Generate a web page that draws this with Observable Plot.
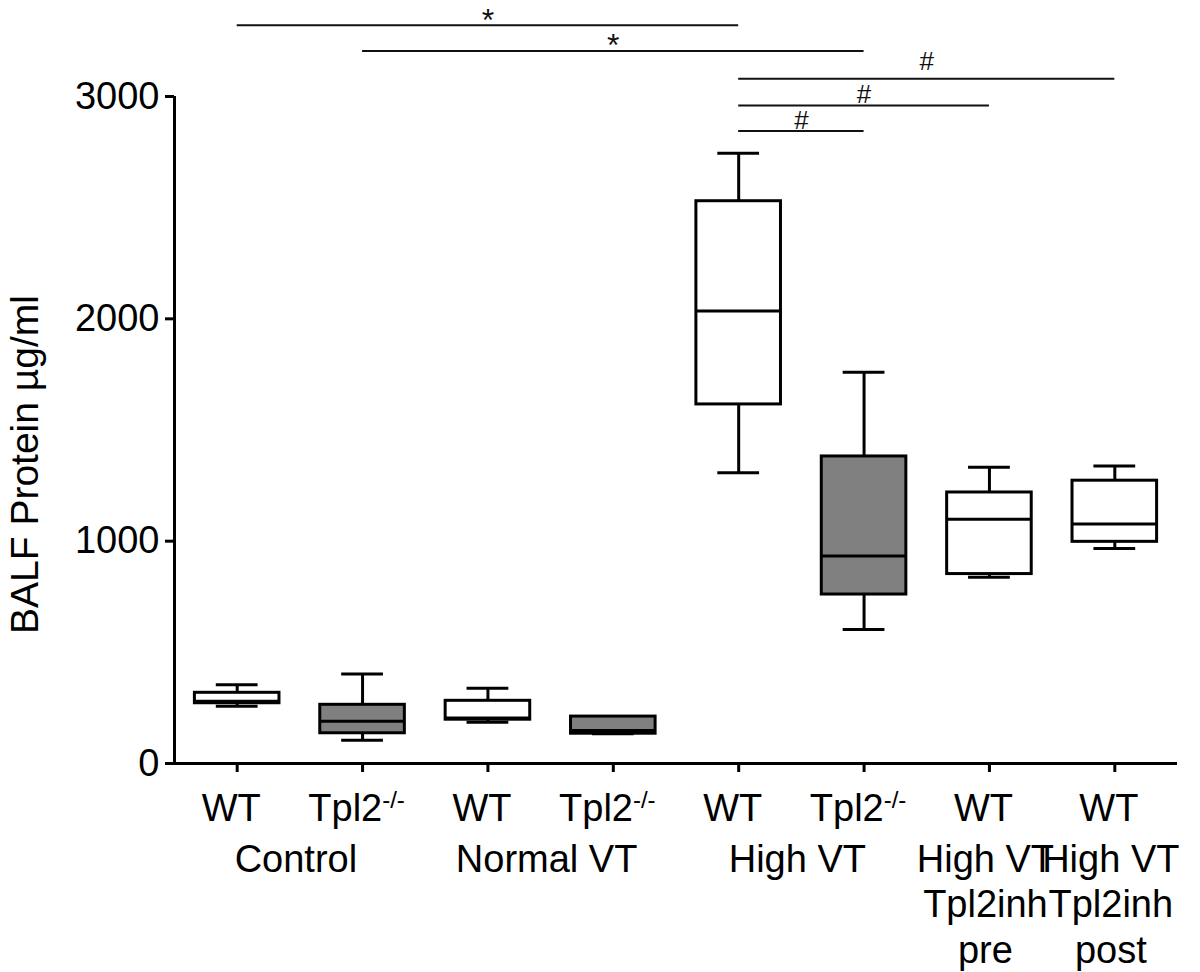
<!DOCTYPE html>
<html><head><meta charset="utf-8">
<script src="https://cdn.jsdelivr.net/npm/d3@7"></script>
<script src="https://cdn.jsdelivr.net/npm/@observablehq/plot@0.6"></script>
<style>body{margin:0;background:#fff}</style>
</head><body><div id="chart"></div>
<script>
// ---- data ----
const genotypes = ["WT", "Tpl2-/-", "WT", "Tpl2-/-", "WT", "Tpl2-/-", "WT", "WT"];
const knockout  = [false, true, false, true, false, true, false, false];
const groupLabels  = ["Control", "Normal VT", "High VT", "High VT\nTpl2inh\npre", "High VT\nTpl2inh\npost"];
const groupMembers = [[0, 1], [2, 3], [4, 5], [6], [7]];
const mins    = [258, 105, 186, 134, 1308,  603,  838,  967];
const q1s     = [271, 136, 197, 134, 1615,  760,  852,  997];
const medians = [280, 190, 205, 148, 2035,  933, 1099, 1077];
const q3s     = [318, 264, 282, 211, 2529, 1381, 1219, 1272];
const maxs    = [354, 402, 339, 211, 2745, 1760, 1333, 1338];
const yTicks  = [0, 1000, 2000, 3000];
const yTitle  = "BALF Protein µg/ml";
const sigFrom   = [0, 1, 4, 4, 4];
const sigTo     = [4, 5, 7, 6, 5];
const sigLevel  = [3320, 3205, 3080, 2960, 2845];
const sigLabelLevel = [3296, 3180, 3121, 2973, 2856];
const sigSymbol = ["*", "*", "#", "#", "#"];

// ---- tables built from the arrays ----
const boxes = genotypes.map((g, i) => ({
  i, g, ko: knockout[i], min: mins[i], q1: q1s[i], med: medians[i], q3: q3s[i], max: maxs[i]
}));
const groups = groupLabels.map((label, k) => ({label, x: d3.mean(groupMembers[k])}));
const sigs = sigFrom.map((f, k) => ({from: f, to: sigTo[k], level: sigLevel[k], ly: sigLabelLevel[k], sym: sigSymbol[k]}));
const xDomain = [-0.5, genotypes.length - 0.5];

const lw = 3;
const boxInset = 20.4;
const capInset = 41.8;

const plot = Plot.plot({
  width: 1200,
  height: 972,
  marginLeft: 174,
  marginRight: 23,
  marginTop: 96,
  marginBottom: 209,
  x: {domain: xDomain, axis: null},
  y: {domain: [0, 3000], axis: null},
  style: {fontFamily: "'Liberation Sans', Arial, Helvetica, sans-serif", color: "black", background: "white", overflow: "visible"},
  marks: [
    // axes
    Plot.axisY({ticks: yTicks, tickFormat: "d", tickSize: 9, tickPadding: 6, fontSize: 38, strokeWidth: lw, label: null}),
    Plot.axisX({ticks: genotypes.map((_, i) => i), tickFormat: () => "", tickSize: 9, strokeWidth: lw, label: null}),
    Plot.ruleY([0], {strokeWidth: lw, insetLeft: -8, stroke: "black"}),
    Plot.ruleX([xDomain[0]], {y1: 0, y2: 3000, strokeWidth: lw, stroke: "black"}),
    // whiskers
    Plot.ruleX(boxes, {x: "i", y1: "q3", y2: "max", strokeWidth: lw, stroke: "black"}),
    Plot.ruleX(boxes, {x: "i", y1: "min", y2: "q1", strokeWidth: lw, stroke: "black"}),
    Plot.ruleY(boxes, {y: "max", x1: d => d.i - 0.5, x2: d => d.i + 0.5, insetLeft: capInset, insetRight: capInset, strokeWidth: lw, stroke: "black"}),
    Plot.ruleY(boxes, {y: "min", x1: d => d.i - 0.5, x2: d => d.i + 0.5, insetLeft: capInset, insetRight: capInset, strokeWidth: lw, stroke: "black"}),
    // boxes
    Plot.rect(boxes, {x1: d => d.i - 0.5, x2: d => d.i + 0.5, y1: "q1", y2: "q3", insetLeft: boxInset, insetRight: boxInset,
      fill: d => d.ko ? "#808080" : "#ffffff", stroke: "black", strokeWidth: lw}),
    Plot.ruleY(boxes, {y: "med", x1: d => d.i - 0.5, x2: d => d.i + 0.5, insetLeft: boxInset, insetRight: boxInset, strokeWidth: lw, stroke: "black"}),
    // significance brackets
    Plot.ruleY(sigs, {y: "level", x1: "from", x2: "to", strokeWidth: 2, stroke: "#111"}),
    Plot.text(sigs.filter(d => d.sym === "*"), {x: d => (d.from + d.to) / 2, y: "ly", text: "sym", lineAnchor: "bottom", fontSize: 32, fill: "#111"}),
    Plot.text(sigs.filter(d => d.sym === "#"), {x: d => (d.from + d.to) / 2, y: "ly", text: "sym", lineAnchor: "bottom", fontSize: 26, fill: "#111"}),
    // category labels
    Plot.text(boxes, {x: "i", text: "g", frameAnchor: "bottom", lineAnchor: "top", dy: 31, dx: -6, fontSize: 38}),
    Plot.text(groups, {x: "x", text: "label", frameAnchor: "bottom", lineAnchor: "top", dy: 76, dx: -4, fontSize: 38, lineHeight: 1.2}),
    // y title
    Plot.text([yTitle], {frameAnchor: "left", rotate: -90, dx: -149, dy: 34.5, fontSize: 39, textAnchor: "middle", lineAnchor: "middle"})
  ]
});

// superscript "-/-"
const ns = "http://www.w3.org/2000/svg";
plot.querySelectorAll("text").forEach(t => {
  if (t.children.length === 0 && t.textContent.endsWith("-/-")) {
    const s = t.textContent;
    t.textContent = "";
    const a = document.createElementNS(ns, "tspan");
    a.textContent = s.slice(0, -3);
    const b = document.createElementNS(ns, "tspan");
    b.textContent = "-/-";
    b.setAttribute("font-size", "24");
    b.setAttribute("dy", "-13");
    t.append(a, b);
  }
});
document.getElementById("chart").append(plot);
</script>
</body></html>
